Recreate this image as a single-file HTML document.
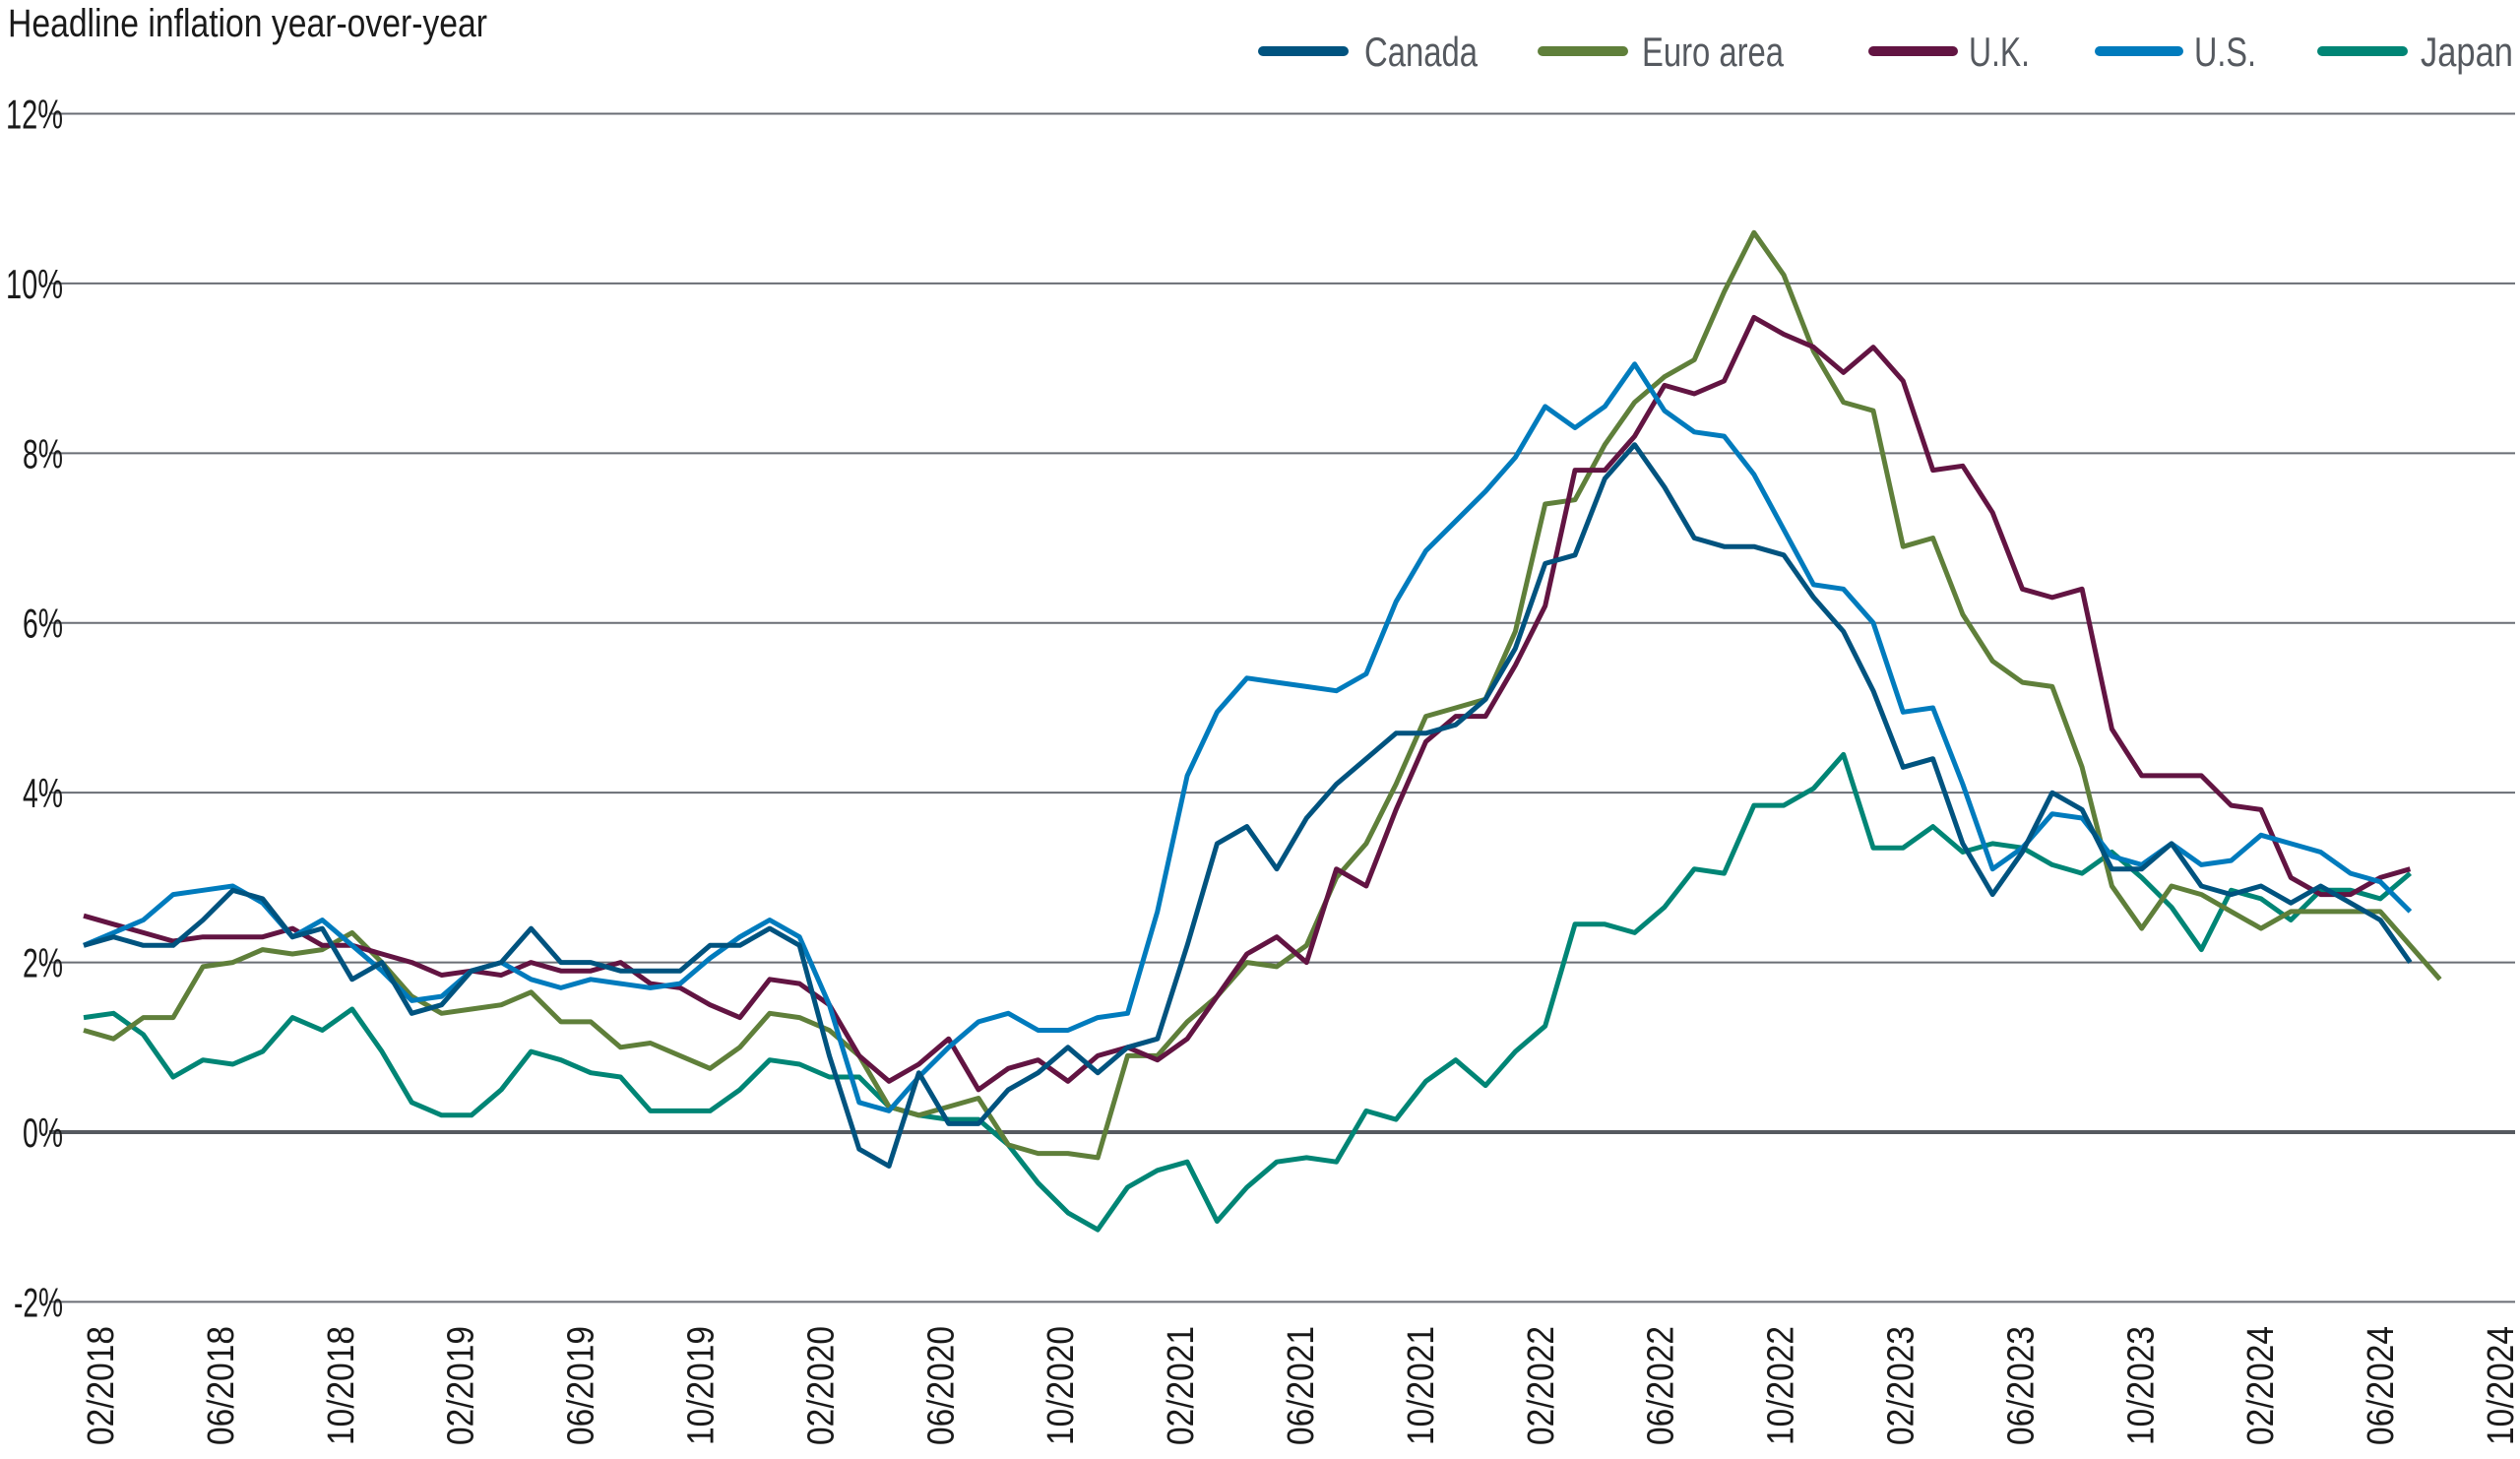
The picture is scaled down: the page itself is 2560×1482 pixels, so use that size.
<!DOCTYPE html>
<html><head><meta charset="utf-8"><style>
html,body{margin:0;padding:0;background:#fff;}
svg{display:block;}
</style></head><body>
<svg id="c" width="2560" height="1482" xmlns="http://www.w3.org/2000/svg" font-family="'Liberation Sans', sans-serif">
<text x="8" y="37" font-size="40" fill="#1a1a1a" textLength="487" lengthAdjust="spacingAndGlyphs">Headline inflation year-over-year</text>
<g stroke-linecap="round" stroke-width="10">
<line x1="1283" y1="52" x2="1365" y2="52" stroke="#00537f"/>
<line x1="1567" y1="52" x2="1649" y2="52" stroke="#5f7f3a"/>
<line x1="1903" y1="52" x2="1984" y2="52" stroke="#621442"/>
<line x1="2133" y1="52" x2="2213" y2="52" stroke="#007bbd"/>
<line x1="2359" y1="52" x2="2441" y2="52" stroke="#008575"/>
</g>
<g font-size="42" fill="#55595f">
<text x="1386" y="67" textLength="115" lengthAdjust="spacingAndGlyphs">Canada</text>
<text x="1668" y="67" textLength="144" lengthAdjust="spacingAndGlyphs">Euro area</text>
<text x="2000" y="67" textLength="62" lengthAdjust="spacingAndGlyphs">U.K.</text>
<text x="2229" y="67" textLength="63" lengthAdjust="spacingAndGlyphs">U.S.</text>
<text x="2459" y="67" textLength="94" lengthAdjust="spacingAndGlyphs">Japan</text>
</g>
<g id="grid"></g>
<g id="series" fill="none" stroke-width="5" stroke-linejoin="round"></g>
</svg>
<script>
var NS="http://www.w3.org/2000/svg";
function el(t,a,p,txt){var e=document.createElementNS(NS,t);for(var k in a)e.setAttribute(k,a[k]);if(txt!=null)e.textContent=txt;p.appendChild(e);return e;}
var g=document.getElementById('grid'),s=document.getElementById('series');
function Y(v){return 1150-v*86.21;}
function X(i){return 85+i*30.3;}
for(var v=-2;v<=12;v+=2){
  var y=Y(v);
  el('line',{x1:50,x2:2555,y1:y,y2:y,stroke:v==0?'#55595f':'#6a6e75','stroke-width':v==0?4:2},g);
  var lbl=(v<0?'-':'')+Math.abs(v)+'%';
  var tl=lbl.length==2?41:(v<0?50:58);
  el('text',{x:64,y:y+15,'font-size':42,fill:'#1a1a1a','text-anchor':'end',textLength:tl,lengthAdjust:'spacingAndGlyphs'},g,lbl);
}
var labs=['02/2018','06/2018','10/2018','02/2019','06/2019','10/2019','02/2020','06/2020','10/2020','02/2021','06/2021','10/2021','02/2022','06/2022','10/2022','02/2023','06/2023','10/2023','02/2024','06/2024','10/2024'];
for(var k=0;k<labs.length;k++){
  var x=101+k*4*30.475+14;
  el('text',{x:0,y:0,'font-size':38,fill:'#1a1a1a','text-anchor':'end',transform:'translate('+x+',1347) rotate(-90)',textLength:121,lengthAdjust:'spacingAndGlyphs'},g,labs[k]);
}
var canada=[2.2,2.3,2.2,2.2,2.5,2.85,2.75,2.3,2.4,1.8,2.0,
1.4,1.5,1.9,2.0,2.4,2.0,2.0,1.9,1.9,1.9,2.2,2.2,
2.4,2.2,0.9,-0.2,-0.4,0.7,0.1,0.1,0.5,0.7,1.0,0.7,
1.0,1.1,2.2,3.4,3.6,3.1,3.7,4.1,4.4,4.7,4.7,4.8,
5.1,5.7,6.7,6.8,7.7,8.1,7.6,7.0,6.9,6.9,6.8,6.3,
5.9,5.2,4.3,4.4,3.4,2.8,3.3,4.0,3.8,3.1,3.1,3.4,
2.9,2.8,2.9,2.7,2.9,2.7,2.5,2.0];
var euro=[1.2,1.1,1.35,1.35,1.95,2.0,2.15,2.1,2.15,2.35,2.0,
1.6,1.4,1.45,1.5,1.65,1.3,1.3,1.0,1.05,0.9,0.75,1.0,
1.4,1.35,1.2,0.9,0.3,0.2,0.3,0.4,-0.15,-0.25,-0.25,-0.3,
0.9,0.9,1.3,1.6,2.0,1.95,2.2,3.0,3.4,4.1,4.9,5.0,
5.1,5.9,7.4,7.45,8.1,8.6,8.9,9.1,9.9,10.6,10.1,9.2,
8.6,8.5,6.9,7.0,6.1,5.55,5.3,5.25,4.3,2.9,2.4,2.9,
2.8,2.6,2.4,2.6,2.6,2.6,2.6,2.2,1.8];
var uk=[2.55,2.45,2.35,2.25,2.3,2.3,2.3,2.4,2.2,2.2,2.1,
2.0,1.85,1.9,1.85,2.0,1.9,1.9,2.0,1.75,1.7,1.5,1.35,
1.8,1.75,1.5,0.9,0.6,0.8,1.1,0.5,0.75,0.85,0.6,0.9,
1.0,0.85,1.1,1.6,2.1,2.3,2.0,3.1,2.9,3.8,4.6,4.9,
4.9,5.5,6.2,7.8,7.8,8.2,8.8,8.7,8.85,9.6,9.4,9.25,
8.95,9.25,8.85,7.8,7.85,7.3,6.4,6.3,6.4,4.75,4.2,4.2,
4.2,3.85,3.8,3.0,2.8,2.8,3.0,3.1];
var us=[2.2,2.35,2.5,2.8,2.85,2.9,2.7,2.3,2.5,2.2,1.9,
1.55,1.6,1.9,2.0,1.8,1.7,1.8,1.75,1.7,1.75,2.05,2.3,
2.5,2.3,1.5,0.35,0.25,0.65,1.0,1.3,1.4,1.2,1.2,1.35,
1.4,1.7,2.6,4.2,4.95,5.35,5.3,5.25,5.2,5.4,6.25,6.85,
7.2,7.55,7.95,8.55,8.3,8.55,9.05,8.5,8.25,8.2,7.75,7.1,
6.45,6.4,6.0,4.95,5.0,4.1,3.1,3.35,3.75,3.7,3.25,3.15,
3.4,3.15,3.2,3.5,3.4,3.3,3.05,2.95,2.6];
us.splice(36,1);
var japan=[1.35,1.4,1.15,0.65,0.85,0.8,0.95,1.35,1.2,1.45,0.95,
0.35,0.2,0.2,0.5,0.95,0.85,0.7,0.65,0.25,0.25,0.25,0.5,
0.85,0.8,0.65,0.65,0.3,0.2,0.15,0.15,-0.15,-0.6,-0.95,-1.15,
-0.65,-0.45,-0.35,-1.05,-0.65,-0.35,-0.3,-0.35,0.25,0.15,0.6,0.85,0.55,
0.95,1.25,2.45,2.45,2.35,2.65,3.1,3.05,3.85,3.85,4.05,4.45,
3.35,3.35,3.6,3.3,3.4,3.35,3.15,3.05,3.3,3.0,2.65,2.15,
2.85,2.75,2.5,2.85,2.85,2.75,3.05];
function draw(d,c){var p='';for(var i=0;i<d.length;i++)p+=(i?'L':'M')+X(i).toFixed(1)+' '+Y(d[i]).toFixed(1);el('path',{d:p,stroke:c},s);}
draw(japan,'#008575');
draw(euro,'#5f7f3a');
draw(uk,'#621442');
draw(us,'#007bbd');
draw(canada,'#00537f');
</script>
</body></html>
